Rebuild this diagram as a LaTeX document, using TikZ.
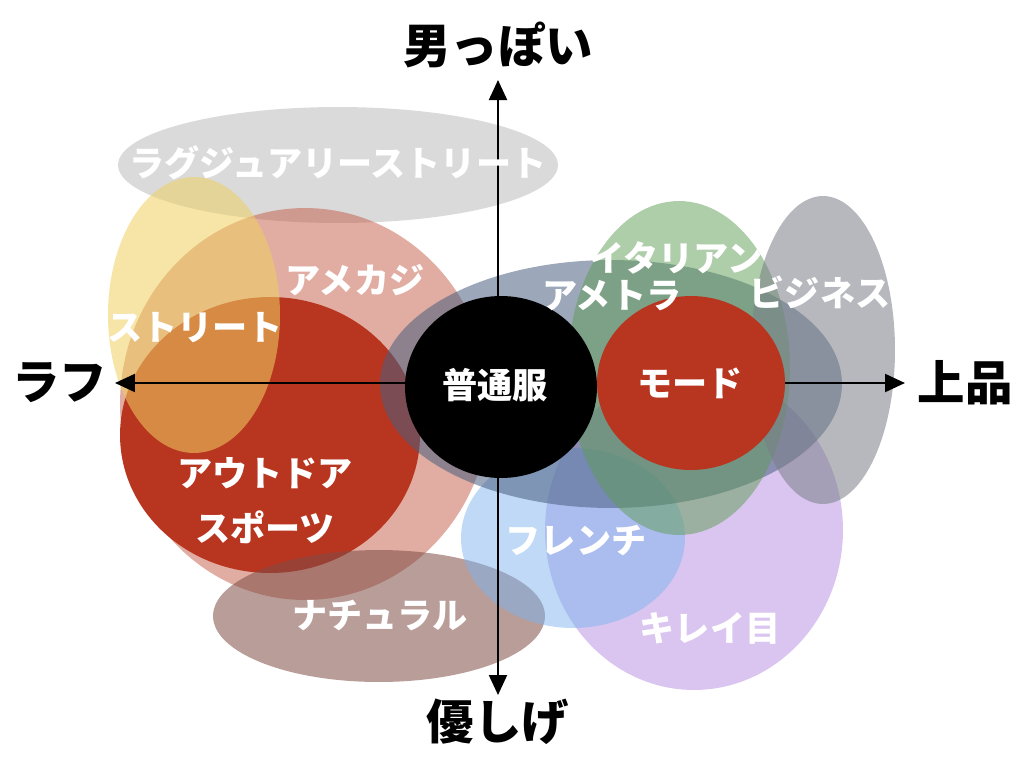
\documentclass[tikz,border=0pt]{standalone}
\usepackage{fontspec}
\setmainfont{Noto Sans CJK JP}
\usepackage{tikz}
\usetikzlibrary{shapes.geometric, arrows.meta, positioning}

\definecolor{luxgray}{HTML}{D6D6D6}
\definecolor{streetyel}{HTML}{F0D060}
\definecolor{amepink}{HTML}{C45A44}
\definecolor{outred}{HTML}{B83520}
\definecolor{natbrown}{HTML}{7E4C46}
\definecolor{kirepurple}{HTML}{B48CE0}
\definecolor{frenchblue}{HTML}{7FB4F0}
\definecolor{tradslate}{HTML}{4A5F80}
\definecolor{itagreen}{HTML}{5E9C54}
\definecolor{bizgray}{HTML}{7A7E88}

\begin{document}
\begin{tikzpicture}[
        x=0.02cm, y=-0.02cm,
        blob/.style={ellipse, inner sep=0pt, draw=none},
        tag/.style={text=white, font=\fontsize{20}{22}\selectfont\bfseries},
        pole/.style={text=black, font=\fontsize{27}{30}\selectfont\bfseries},
        axis/.style={{Triangle[length=0.4cm, width=0.36cm]}-{Triangle[length=0.4cm, width=0.36cm]}, line width=1.2pt, black}
    ]
        \useasboundingbox (0,0) rectangle (1024,768);

        % Style areas
        \node[blob, fill=luxgray, opacity=0.9, minimum width=8.8cm, minimum height=2.32cm] (luxury) at (338,165) {};
        \node[blob, fill=amepink, opacity=0.5, minimum width=7.4cm, minimum height=7.84cm] (amekaji) at (305,404) {};
        \node[blob, fill=outred, minimum width=6cm, minimum height=5.52cm] (outdoor) at (270,435) {};
        \node[blob, fill=streetyel, opacity=0.55, minimum width=3.44cm, minimum height=5.52cm] (street) at (194,315) {};
        \node[blob, fill=natbrown, opacity=0.55, minimum width=6.64cm, minimum height=2.64cm] (natural) at (379,616) {};
        \node[blob, fill=kirepurple, opacity=0.5, minimum width=5.96cm, minimum height=6.4cm] (kireime) at (694,530) {};
        \node[blob, fill=frenchblue, opacity=0.5, minimum width=4.48cm, minimum height=3.6cm] (french) at (573,538) {};
        \node[blob, fill=tradslate, opacity=0.55, minimum width=9.24cm, minimum height=4.96cm] (ametora) at (611,384) {};
        \node[blob, fill=itagreen, opacity=0.5, minimum width=4.44cm, minimum height=6.68cm] (italian) at (679,368) {};
        \node[blob, fill=bizgray, opacity=0.55, minimum width=2.88cm, minimum height=6.16cm] (business) at (823,350) {};

        % Axes
        \coordinate (west) at (115,383);
        \coordinate (east) at (905,383);
        \coordinate (north) at (498,80);
        \coordinate (south) at (498,695);
        \draw[axis] (west) -- (east);
        \draw[axis] (south) -- (north);

        \node[blob, fill=black, minimum width=3.84cm, minimum height=3.64cm] (plain) at (501,387) {};
        \node[blob, fill=outred, minimum width=3.76cm, minimum height=3.48cm] (mode) at (691,383) {};

        % Axis labels
        \node[pole] (manly) at (498,45) {男っぽい};
        \node[pole] (gentle) at (498,722) {優しげ};
        \node[pole] (rough) at (60,383) {ラフ};
        \node[pole] (elegant) at (965,383) {上品};

        % Area labels
        \node[tag] (luxurytag) at (338,163) {ラグジュアリーストリート};
        \node[tag] (streettag) at (195,328) {ストリート};
        \node[tag] (amekajitag) at (355,280) {アメカジ};
        \node[tag] (outdoortag) at (265,473) {アウトドア};
        \node[tag] (sportstag) at (265,527) {スポーツ};
        \node[tag] (plaintag) at (495,385) {普通服};
        \node[tag] (modetag) at (690,383) {モード};
        \node[tag] (italiantag) at (676,258) {イタリアン};
        \node[tag] (ametoratag) at (612,296) {アメトラ};
        \node[tag] (businesstag) at (820,292) {ビジネス};
        \node[tag] (frenchtag) at (576,540) {フレンチ};
        \node[tag] (kireimetag) at (710,628) {キレイ目};
        \node[tag] (naturaltag) at (380,615) {ナチュラル};
    \end{tikzpicture}
\end{document}
